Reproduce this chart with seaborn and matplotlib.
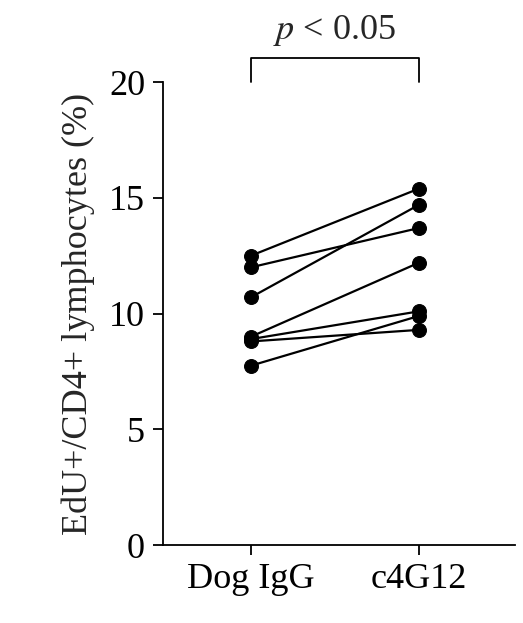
import matplotlib
matplotlib.use("Agg")
import matplotlib.pyplot as plt
import seaborn as sns
import pandas as pd

groups = ["Dog IgG", "c4G12"]
igg = [12.5, 12.0, 10.7, 9.0, 8.9, 8.8, 7.75]
c4g12 = [15.4, 13.7, 14.7, 12.2, 10.1, 9.3, 9.9]

sns.set_style("ticks")
plt.rcParams['font.family'] = ['Liberation Serif']
plt.rcParams['mathtext.fontset'] = 'stix'

rows = []
for i, (a, b) in enumerate(zip(igg, c4g12)):
    rows.append({"subj": i, "group": groups[0], "val": a, "x": 0})
    rows.append({"subj": i, "group": groups[1], "val": b, "x": 1})
df = pd.DataFrame(rows)

fig = plt.figure(figsize=(5.23, 6.23), dpi=100)
ax = fig.add_axes([0.312, 0.125, 0.672, 0.743])
sns.lineplot(data=df, x="x", y="val", units="subj", estimator=None, color="black",
             lw=1.6, marker="o", markersize=10, markeredgecolor="black", ax=ax)
ax.set_xlim(-0.52, 1.57)
ax.set_ylim(0, 20)
ax.set_yticks([0, 5, 10, 15, 20])
ax.set_xticks([0, 1])
ax.set_xticklabels(groups)
ax.set_xlabel("")
ax.set_ylabel("EdU+/CD4+ lymphocytes (%)", fontsize=26, labelpad=10)
ax.tick_params(labelsize=26, direction="out", length=7, width=1.3, colors="black", pad=6)
for s in ["top", "right"]:
    ax.spines[s].set_visible(False)
for s in ["left", "bottom"]:
    ax.spines[s].set_linewidth(1.3)
    ax.spines[s].set_color("black")
ax.plot([0, 0, 1, 1], [20.0, 21.05, 21.05, 20.0], color="black", lw=1.3, clip_on=False)
ax.text(0.5, 22.25, r"$p$ < 0.05", ha="center", va="center", fontsize=26)
fig.savefig("out.png", dpi=100, facecolor="white")
